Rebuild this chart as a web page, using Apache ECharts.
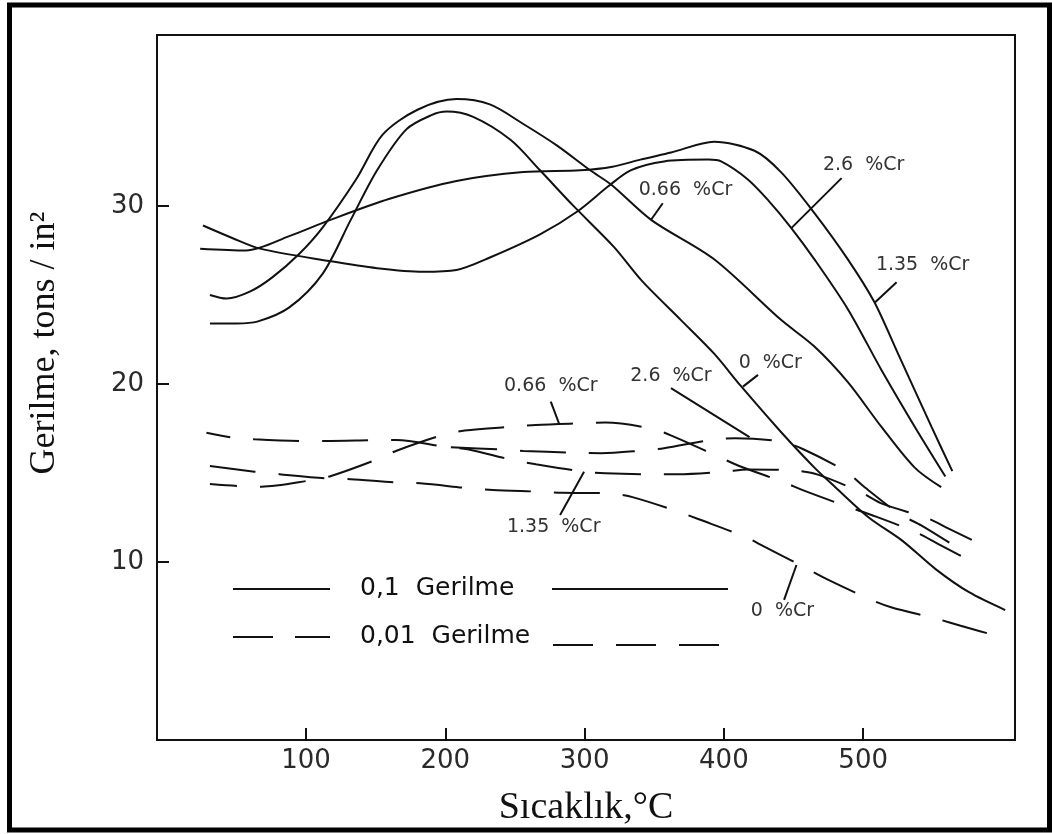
<!DOCTYPE html>
<html>
<head>
<meta charset="utf-8">
<script src="https://cdn.jsdelivr.net/npm/echarts@6/dist/echarts.min.js"></script>
<style>
  html, body { margin: 0; padding: 0; background: #fff; }
  #chart { width: 1052px; height: 834px; }
</style>
</head>
<body>
<div id="chart"></div>
<script>
// Stress (tons/in²) against temperature (°C) for steels with different Cr contents.
// Solid curves: 0,1 proof stress; dashed curves: 0,01 proof stress.

const xTicks = [100, 200, 300, 400, 500];
const yTicks = [10, 20, 30];

// 0,1 Gerilme  [temperature, stress]
const solid_0Cr = [[31,23.4],[50,23.4],[65,23.5],[88,24.3],[112,26.2],[132,29.2],[151,32.0],[172,34.3],[190,35.1],[201,35.3],[220,35.0],[247,33.7],[268,32.0],[292,30.0],[321,27.7],[341,25.8],[369,23.6],[393,21.7],[412,19.9],[441,17.3],[465,15.3],[480,14.2],[504,12.5],[528,11.2],[552,9.6],[576,8.3],[602,7.3]];
const solid_066Cr = [[31,25.0],[43,24.8],[60,25.2],[76,26.0],[95,27.3],[112,28.8],[136,31.5],[155,34.0],[180,35.4],[208,36.0],[232,35.7],[256,34.6],[280,33.4],[304,32.0],[319,31.2],[348,29.2],[393,27.0],[441,23.6],[465,22.1],[489,20.1],[513,17.6],[537,15.3],[556,14.2]];
const solid_135Cr = [[24,27.6],[57,27.5],[88,28.3],[117,29.2],[160,30.4],[208,31.4],[256,31.9],[297,32.0],[320,32.2],[340,32.6],[362,33.0],[393,33.6],[422,33.1],[441,31.9],[465,29.6],[489,27.0],[508,24.6],[525,21.7],[549,17.6],[564,15.1]];
const solid_26Cr = [[26,28.9],[47,28.2],[67,27.6],[117,26.9],[151,26.5],[184,26.3],[208,26.4],[232,27.1],[268,28.4],[295,29.7],[317,31.1],[333,32.0],[357,32.5],[389,32.6],[398,32.5],[417,31.5],[432,30.3],[448,28.8],[465,27.0],[489,24.2],[513,20.8],[537,17.6],[559,14.8]];

// 0,01 Gerilme  [temperature, stress]
const dashed_0Cr = [[31,15.39],[63,15.07],[81,14.93],[114,14.70],[132,14.65],[165,14.46],[182,14.42],[217,14.14],[234,14.04],[267,13.95],[284,13.89],[317,13.86],[335,13.63],[367,12.83],[382,12.40],[415,11.42],[429,10.86],[459,9.65],[475,8.99],[505,7.90],[520,7.46],[554,6.78],[570,6.42],[602,5.71]];
const dashed_066Cr = [[31,14.38],[51,14.27],[68,14.23],[102,14.57],[118,14.83],[150,15.73],[165,16.25],[198,17.13],[214,17.38],[248,17.60],[265,17.70],[298,17.79],[315,17.83],[349,17.47],[364,17.04],[396,15.92],[411,15.39],[442,14.51],[458,13.99],[490,13.07],[506,12.64],[537,11.70],[553,11.05],[572,10.26]];
const dashed_135Cr = [[28.5,17.26],[46.5,17.0],[63,16.89],[97,16.8],[114,16.8],[148,16.84],[165,16.85],[199,16.48],[216,16.33],[248,15.73],[265,15.49],[300,15.07],[315,14.98],[349,14.93],[367,14.93],[400,15.07],[417,15.2],[451,15.13],[468,14.89],[499,13.89],[514,13.26],[546,12.46],[561,11.89],[578,11.24]];
const dashed_26Cr = [[204,16.44],[238,16.33],[256,16.24],[290,16.14],[312,16.11],[340,16.25],[357,16.39],[391,16.85],[408,16.95],[441,16.76],[457,16.33],[487,15.11],[500,14.27],[526,12.70],[542,12.04],[572,10.58]];

// Curve labels: text, label anchor, leader start, leader end (data units)
const curveLabels = [
  { text: '2.6  %Cr',  at: [500.3, 32.30], from: [484.5, 31.56], to: [448.4, 28.75] },
  { text: '0.66  %Cr', at: [372.4, 30.90], from: [356.1, 30.15], to: [347.6, 29.21] },
  { text: '1.35  %Cr', at: [542.7, 26.69], from: [524.0, 25.71], to: [508.4, 24.57] },
  { text: '0  %Cr',    at: [433.3, 21.18], from: [424.5, 20.51], to: [413.7, 19.85] },
  { text: '2.6  %Cr',  at: [362.0, 20.45], from: [362.0, 19.76], to: [418.4, 17.01] },
  { text: '0.66  %Cr', at: [275.7, 19.89], from: [275.7, 19.01], to: [281.6, 17.79] },
  { text: '1.35  %Cr', at: [277.8, 11.97], from: [282.4, 12.64], to: [299.6, 15.07] },
  { text: '0  %Cr',    at: [442.0, 7.25],  from: [443.2, 7.87],  to: [452.1, 9.83] }
];

const legendLabels = ['0,1  Gerilme', '0,01  Gerilme'];

const INK = '#111';
const DASH = [46, 23];

function curve(name, data, dashed, offset) {
  return {
    name: name,
    type: 'line',
    data: data,
    smooth: 0.3,
    showSymbol: false,
    silent: true,
    lineStyle: {
      color: INK,
      width: 2,
      type: dashed ? DASH : 'solid',
      dashOffset: offset || 0
    }
  };
}

const chart = echarts.init(document.getElementById('chart'), null, { renderer: 'canvas' });

const option = {
  animation: false,
  backgroundColor: '#fff',
  grid: {
    left: 157, right: 37, top: 35, bottom: 94,
    show: true, borderColor: INK, borderWidth: 2, backgroundColor: 'transparent'
  },
  xAxis: {
    type: 'value',
    min: -7,
    max: 609,
    axisLine: { onZero: false, lineStyle: { color: INK, width: 2 } },
    axisTick: { show: true, inside: true, length: 12, customValues: xTicks, lineStyle: { color: INK, width: 2 } },
    axisLabel: { customValues: xTicks, margin: 8, color: '#2a2a2a', fontSize: 26, fontFamily: 'DejaVu Sans' },
    splitLine: { show: false },
    name: 'Sıcaklık,°C',
    nameLocation: 'middle',
    nameGap: 49,
    nameTextStyle: { color: INK, fontSize: 38, fontFamily: 'Liberation Serif' }
  },
  yAxis: {
    type: 'value',
    min: 0,
    max: 39.6,
    axisLine: { show: true, onZero: false, lineStyle: { color: INK, width: 2 } },
    axisTick: { show: true, inside: true, length: 12, customValues: yTicks, lineStyle: { color: INK, width: 2 } },
    axisLabel: { customValues: yTicks, margin: 13, color: '#2a2a2a', fontSize: 26, fontFamily: 'DejaVu Sans' },
    splitLine: { show: false }
  },
  series: [
    curve('0 %Cr', solid_0Cr, false),
    curve('0.66 %Cr', solid_066Cr, false),
    curve('1.35 %Cr', solid_135Cr, false),
    curve('2.6 %Cr', solid_26Cr, false),
    curve('0 %Cr (0,01)', dashed_0Cr, true, 0),
    curve('0.66 %Cr (0,01)', dashed_066Cr, true, 19),
    curve('1.35 %Cr (0,01)', dashed_135Cr, true, 22),
    curve('2.6 %Cr (0,01)', dashed_26Cr, true, 0)
  ]
};

chart.setOption(option);

// Labels, leaders, legend and frame
const toPx = p => chart.convertToPixel({ gridIndex: 0 }, p);
const graphics = [];

curveLabels.forEach(l => {
  const a = toPx(l.at), f = toPx(l.from), t = toPx(l.to);
  graphics.push({
    type: 'line', silent: true,
    shape: { x1: f[0], y1: f[1], x2: t[0], y2: t[1] },
    style: { stroke: INK, lineWidth: 2 }
  });
  graphics.push({
    type: 'text', silent: true, x: a[0], y: a[1],
    style: { text: l.text, fill: '#333', font: '19px "DejaVu Sans"', textAlign: 'center', textVerticalAlign: 'middle' }
  });
});

// legend rows
graphics.push(
  { type: 'line', shape: { x1: 233, y1: 589, x2: 330, y2: 589 }, style: { stroke: INK, lineWidth: 2 } },
  { type: 'text', x: 360, y: 588, style: { text: legendLabels[0], fill: INK, font: '25px "DejaVu Sans"', textAlign: 'left', textVerticalAlign: 'middle' } },
  { type: 'line', shape: { x1: 552, y1: 589, x2: 728, y2: 589 }, style: { stroke: INK, lineWidth: 2 } },
  { type: 'line', shape: { x1: 233, y1: 637, x2: 330, y2: 637 }, style: { stroke: INK, lineWidth: 2, lineDash: [40, 22] } },
  { type: 'text', x: 360, y: 636, style: { text: legendLabels[1], fill: INK, font: '25px "DejaVu Sans"', textAlign: 'left', textVerticalAlign: 'middle' } },
  { type: 'line', shape: { x1: 553, y1: 645, x2: 725, y2: 645 }, style: { stroke: INK, lineWidth: 2, lineDash: [40, 23] } }
);

// y-axis title
graphics.push({
  type: 'text', x: 45, y: 343, rotation: Math.PI / 2,
  style: { text: 'Gerilme, tons / in²', fill: INK, font: '36px "Liberation Serif"', textAlign: 'center', textVerticalAlign: 'middle' }
});

// outer frame
graphics.push({
  type: 'rect', silent: true,
  shape: { x: 9.5, y: 5, width: 1040, height: 825 },
  style: { fill: 'none', stroke: '#000', lineWidth: 5 }
});

chart.setOption({ graphic: graphics });
</script>
</body>
</html>
